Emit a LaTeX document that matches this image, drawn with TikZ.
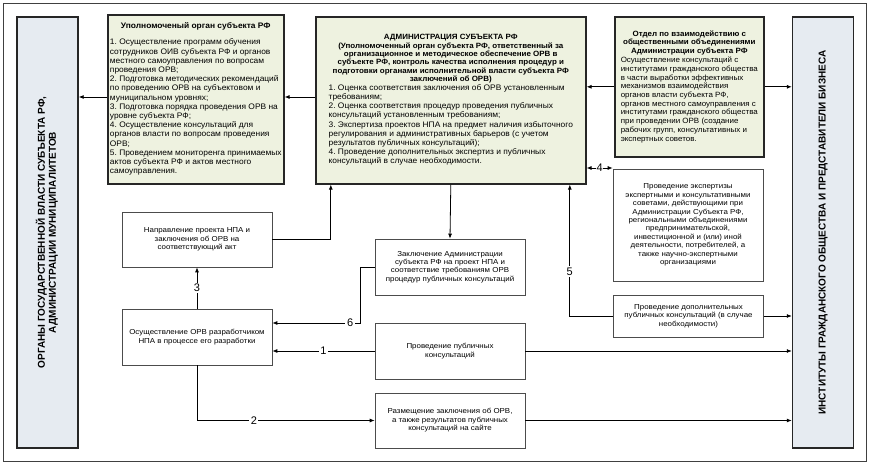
\documentclass[tikz,border=0pt]{standalone}
\usepackage{fontspec}
\setmainfont{Liberation Sans}
\newfontfamily\upfont{Liberation Sans}[FakeStretch = 1.05]
\newfontfamily\lowfont{Liberation Sans}[FakeStretch = 1.1]
\newfontfamily\headfont{Liberation Sans}[FakeStretch = 1.05]
\usetikzlibrary{arrows.meta}
\definecolor{greenfill}{HTML}{EEF2E0}
\definecolor{tallfill}{HTML}{E6EBF1}
\frenchspacing
\begin{document}
\begin{tikzpicture}[x = 1pt, y = -1pt,
    tall box/.style = {draw = black!85, line width = 1.4pt, fill = tallfill, minimum width = 61pt, minimum height = 431pt, inner sep = 0pt, font = \fontsize{10}{11}\selectfont\bfseries},
    green box/.style = {draw = black!85, line width = 1.6pt, fill = greenfill, inner sep = 1pt, anchor = north west, font = \upfont\fontsize{8}{9.2}\selectfont},
    step box/.style = {draw = black!70, line width = 0.7pt, fill = white, minimum width = 150pt, inner sep = 1pt, align = center, font = \lowfont\fontsize{7.2}{8.4}\selectfont},
    arr/.style = {-{Latex[length = 5pt, width = 4pt]}, line width = 0.8pt},
    num/.style = {fill = white, inner sep = 1.5pt, font = \fontsize{11}{12}\selectfont}]
    \useasboundingbox (0, 0) rectangle (870, 465);
    \draw [black!75, line width = 0.8pt] (3, 3) rectangle (866, 461);

    \node at (47.5, 232.5) [tall box] (organy) {\rotatebox{90}{\begin{tabular}{@{}c@{}}ОРГАНЫ ГОСУДАРСТВЕННОЙ ВЛАСТИ СУБЪЕКТА РФ,\\ АДМИНИСТРАЦИИ МУНИЦИПАЛИТЕТОВ\end{tabular}}};
    \node at (823, 232.5) [tall box] (instituty) {\rotatebox{90}{ИНСТИТУТЫ ГРАЖДАНСКОГО ОБЩЕСТВА И ПРЕДСТАВИТЕЛИ БИЗНЕСА}};

    \node at (107, 14) [green box, minimum width = 176pt, minimum height = 169pt] (upolnom) {\begin{tabular}{@{}l@{}}
        \multicolumn{1}{@{}c@{}}{\headfont\bfseries Уполномоченый орган субъекта РФ}\\[7pt]
        1. Осуществление программ обучения\\ сотрудников ОИВ субъекта РФ и органов\\ местного самоуправления по вопросам\\ проведения ОРВ;\\
        2. Подготовка методических рекомендаций\\ по проведению ОРВ на субъектовом и\\ муниципальном уровнях;\\
        3. Подготовка порядка проведения ОРВ на\\ уровне субъекта РФ;\\
        4. Осуществление консультаций для\\ органов власти по вопросам проведения\\ ОРВ;\\
        5. Проведением мониторенга принимаемых\\ актов субъекта РФ и актов местного\\ самоуправления.
    \end{tabular}};
    \node at (315, 16) [green box, minimum width = 270pt, minimum height = 167pt] (admin) {\begin{tabular}{@{}l@{}}
        \multicolumn{1}{@{}c@{}}{\headfont\bfseries\fontsize{7.6}{8.3}\selectfont\begin{tabular}{@{}c@{}}АДМИНИСТРАЦИЯ СУБЪЕКТА РФ\\ (Уполномоченный орган субъекта РФ, ответственный за\\ организационное и методическое обеспечение ОРВ в\\ субъекте РФ, контроль качества исполнения процедур и\\ подготовки органами исполнительной власти субъекта РФ\\ заключений об ОРВ)\end{tabular}}\\[9pt]
        1. Оценка соответствия заключения об ОРВ установленным\\ требованиям;\\
        2. Оценка соответствия процедур проведения публичных\\ консультаций установленным требованиям;\\
        3. Экспертиза проектов НПА на предмет наличия избыточного\\ регулирования и административных барьеров (с учетом\\ результатов публичных консультаций);\\
        4. Проведение дополнительных экспертиз и публичных\\ консультаций в случае необходимости.
    \end{tabular}};
    \node at (614, 16) [green box, minimum width = 149pt, minimum height = 140pt, font = \upfont\fontsize{7.6}{8.7}\selectfont] (otdel) {\begin{tabular}{@{}l@{}}
        \multicolumn{1}{@{}c@{}}{\headfont\bfseries\begin{tabular}{@{}c@{}}Отдел по взаимодействию с\\ общественными объединениями\\ Администрации субъекта РФ\end{tabular}}\\[9pt]
        Осуществление консультаций с\\ институтами гражданского общества\\ в части выработки эффективных\\ механизмов взаимодействия\\ органов власти субъекта РФ,\\ органов местного самоуправления с\\ институтами гражданского общества\\ при проведении ОРВ (создание\\ рабочих групп, консультативных и\\ экспертных советов.
    \end{tabular}};

    \node at (688, 225) [step box, minimum height = 112pt] (ekspertiza) {Проведение экспертизы\\ экспертными и консультативными\\ советами, действующими при\\ Администрации Субъекта РФ,\\ региональными объединениями\\ предпринимательской,\\ инвестиционной и (или) иной\\ деятельности, потребителей, а\\ также научно-экспертными\\ организациями};
    \node at (688.5, 316) [step box, minimum height = 42pt] (dopoln) {Проведение дополнительных\\ публичных консультаций (в случае\\ необходимости)};
    \node at (450, 267) [step box, minimum height = 56pt] (zakl) {Заключение Администрации\\ субъекта РФ на проект НПА и\\ соответствие требованиям ОРВ\\ процедур публичных консультаций};
    \node at (450, 351) [step box, minimum height = 56pt] (publ) {Проведение публичных\\ консультаций};
    \node at (450, 420.5) [step box, minimum height = 55pt] (razm) {Размещение заключения об ОРВ,\\ а также результатов публичных\\ консультаций на сайте};
    \node at (197, 337) [step box, minimum height = 56pt] (razrab) {Осуществление ОРВ разработчиком\\ НПА в процессе его разработки};
    \node at (197, 239.5) [step box, minimum height = 55pt] (naprav) {Направление проекта НПА и\\ заключения об ОРВ на\\ соответствующий акт};
    \coordinate (c4) at (600, 168);

    \draw [arr] (upolnom.west |- 0, 97) -- (organy.east |- 0, 97);
    \draw [arr] (admin.west |- 0, 97) -- (upolnom.east |- 0, 97);
    \draw [arr] (otdel.east) -- (otdel.east -| instituty.west);
    \draw [arr] (otdel.west) -- (otdel.west -| admin.east);
    \draw [{Latex[length = 5pt, width = 4pt]}-{Latex[length = 5pt, width = 4pt]}, line width = 0.8pt] (admin.east |- c4) -- node [num, inner sep = 0.5pt] {4} (ekspertiza.west |- c4);
    \draw [arr] (naprav.east) -| ([xshift = -120pt]admin.south);
    \draw [arr] (admin.south) -- (zakl.north);
    \draw [arr] (dopoln.west) -| node [num, pos = 0.67] {5} ([xshift = 119pt]admin.south);
    \draw [arr] (zakl.west) -- ++(-14, 0) |- node [num, pos = 0.56] {6} ([yshift = 14pt]razrab.east);
    \draw [arr] (publ.west) -- node [num] {1} ([yshift = -14pt]razrab.east);
    \draw [arr] (publ.east) -- (publ.east -| instituty.west);
    \draw [arr] (razrab.south) |- node [num, pos = 0.66] {2} (razm.west);
    \draw [arr] (razm.east) -- (razm.east -| instituty.west);
    \draw [arr] (dopoln.east) -- (dopoln.east -| instituty.west);
    \draw [arr] (razrab.north) -- node [num] {3} (naprav.south);
\end{tikzpicture}
\end{document}
